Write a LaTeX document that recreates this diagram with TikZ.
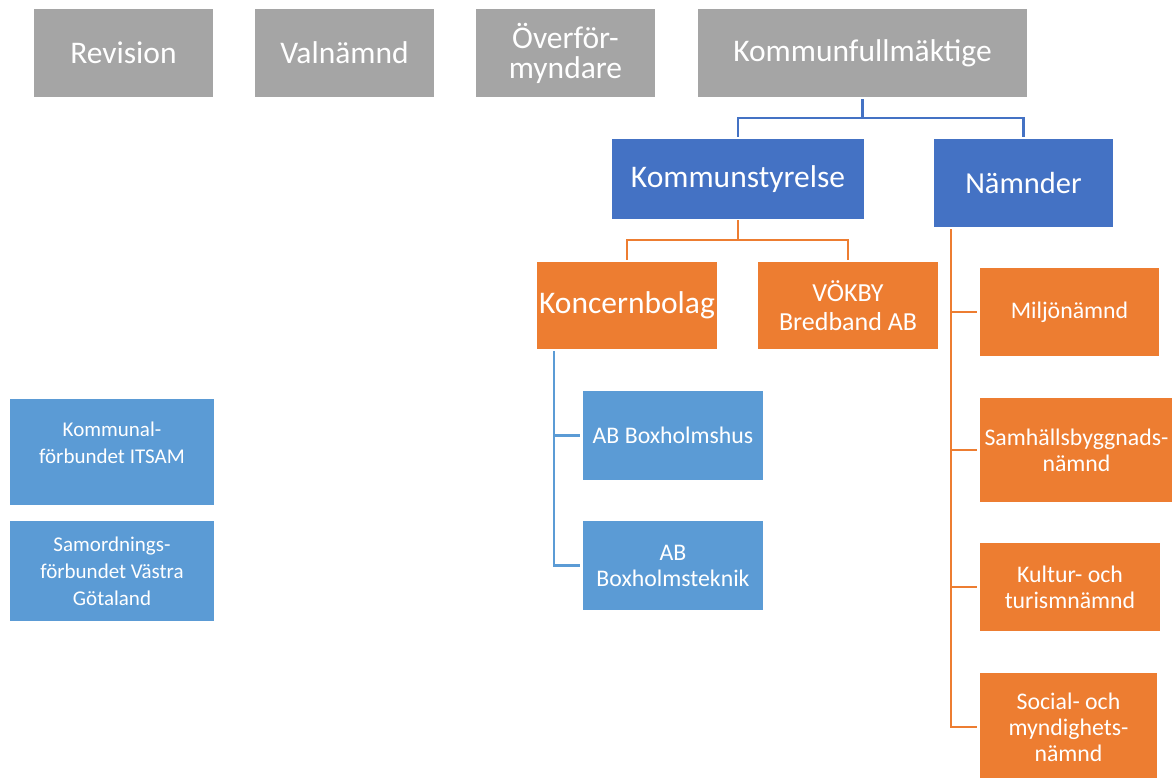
\documentclass[tikz,border=0pt]{standalone}
\usepackage{fontspec}
\setmainfont{Carlito}
\definecolor{cgray}{HTML}{A5A5A5}
\definecolor{cblue}{HTML}{4472C4}
\definecolor{corange}{HTML}{ED7D31}
\definecolor{clblue}{HTML}{5B9BD5}
\begin{document}
\begin{tikzpicture}[x=1pt,y=-1pt,
  box/.style={rectangle, inner sep=0pt, text=white, align=center},
  graybox/.style={box, fill=cgray, minimum width=179pt, minimum height=88pt, font=\fontsize{31.5}{30}\selectfont},
  bluebox/.style={box, fill=cblue},
  orangebox/.style={box, fill=corange},
  lbluebox/.style={box, fill=clblue},
  bline/.style={draw=cblue, line width=2.5pt},
  oline/.style={draw=corange, line width=2.5pt},
  lline/.style={draw=clblue, line width=2.5pt},
  big/.style={font=\fontsize{31.5}{30}\selectfont},
  mid/.style={font=\fontsize{23.8}{26}\selectfont},
  small/.style={font=\fontsize{21}{27}\selectfont}
]
\useasboundingbox (0,0) rectangle (1172,778);
\clip (0,0) rectangle (1172,778);

% top row
\node[graybox] (rev) at (123.5,53) {Revision};
\node[graybox] (val) at (344.5,53) {Valnämnd};
\node[graybox] (ovf) at (565.5,53) {Överför-\\myndare};
\node[graybox, minimum width=329pt] (kf) at (862.5,53) {Kommunfullmäktige};

% second row
\node[bluebox, big, minimum width=252pt, minimum height=80pt] (ks) at (738,179) {Kommunstyrelse};
\node[bluebox, font=\fontsize{30.5}{30}\selectfont, minimum width=179pt, minimum height=88pt] (nam) at (1023.5,183) {Nämnder};

% third row
\node[orangebox, big, minimum width=180pt, minimum height=87pt] (kon) at (627,305.5) {Koncernbolag};
\node[orangebox, font=\fontsize{26}{29}\selectfont, minimum width=180pt, minimum height=87pt] (vok) at (848,305.5) {VÖKBY\\Bredband AB};

% Nämnder children
\node[orangebox, mid, minimum width=179pt, minimum height=88pt] (mil) at (1069.5,312) {Miljönämnd};
\node[orangebox, mid, minimum width=193pt, minimum height=104pt] (sam) at (1076.5,450) {Samhällsbyggnads-\\nämnd};
\node[orangebox, mid, minimum width=180pt, minimum height=88pt] (kul) at (1070,587) {Kultur- och\\turismnämnd};
\node[orangebox, mid, minimum width=177pt, minimum height=108pt] (soc) at (1068.5,727) {Social- och\\myndighets-\\nämnd};

% Koncernbolag children
\node[lbluebox, mid, minimum width=180pt, minimum height=89pt] (hus) at (673,435.5) {AB Boxholmshus};
\node[lbluebox, mid, minimum width=180pt, minimum height=89pt] (tek) at (673,565.5) {AB\\Boxholmsteknik};

% left boxes
\node[lbluebox, minimum width=204pt, minimum height=106pt,
  label={[small, text=white, align=center, yshift=9pt]center:Kommunal-\\förbundet ITSAM}] (its) at (112,452) {};
\node[lbluebox, small, minimum width=204pt, minimum height=100pt] (smf) at (112,571) {Samordnings-\\förbundet Västra\\Götaland};

% connectors
\draw[bline, shorten <=2pt] (kf.south) -- ++(0,21);
\draw[bline, shorten <=2pt, shorten >=2pt] (ks.north) -- ++(0,-21) -| (nam.north);

\draw[oline, shorten <=1pt] (ks.south) -- ++(0,21);
\draw[oline, shorten <=2pt, shorten >=2pt] (kon.north) -- ++(0,-22) -| (vok.north);

\coordinate (nv) at ([xshift=17pt]nam.south west);
\draw[oline, shorten <=2pt, shorten >=3pt] (nv) |- (soc.west);
\draw[oline, shorten >=3pt] (nv |- mil.west) -- (mil.west);
\draw[oline, shorten >=3pt] (nv |- sam.west) -- (sam.west);
\draw[oline, shorten >=3pt] (nv |- kul.west) -- (kul.west);

\coordinate (kv) at ([xshift=17pt]kon.south west);
\draw[lline, shorten <=2pt, shorten >=3pt] (kv) |- (tek.west);
\draw[lline, shorten >=3pt] (kv |- hus.west) -- (hus.west);
\end{tikzpicture}
\end{document}
